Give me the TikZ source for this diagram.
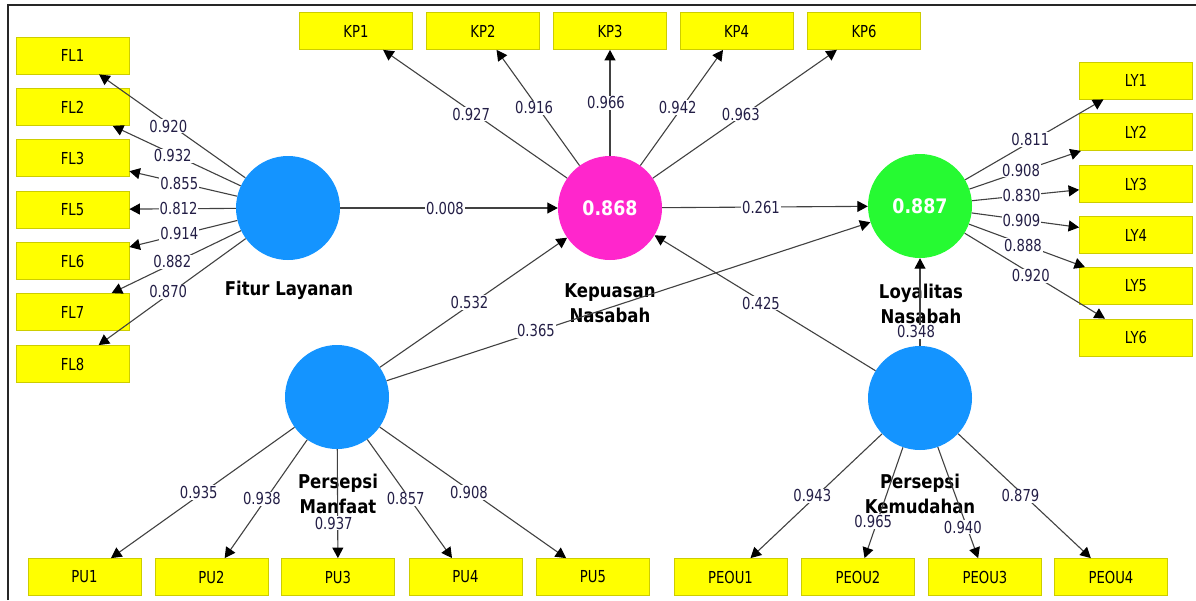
\documentclass[tikz,border=0pt]{standalone}
\usepackage{fontspec}
\usetikzlibrary{arrows.meta}
\newfontfamily\plsfont[FakeStretch=0.8]{DejaVu Sans}
\newfontfamily\latfont[FakeStretch=0.87]{DejaVu Sans}
\definecolor{latblue}{RGB}{20,148,255}
\definecolor{latpink}{RGB}{255,38,204}
\definecolor{latgreen}{RGB}{38,250,50}
\definecolor{indyellow}{RGB}{255,255,0}
\definecolor{indedge}{RGB}{205,205,0}
\definecolor{linkgray}{RGB}{65,65,65}
\definecolor{numink}{RGB}{35,30,70}
\tikzset{
  latent/.style={circle, fill=#1, minimum size=104pt, inner sep=0pt, text=white,
    font=\latfont\bfseries\fontsize{20}{24}\selectfont},
  indicator/.style={rectangle, fill=indyellow, draw=indedge, line width=0.8pt,
    minimum width=113pt, minimum height=37pt, inner sep=0pt,
    font=\plsfont\fontsize{16.5}{19}\selectfont},
  latname/.style={align=center, anchor=base, inner sep=0pt,
    font=\latfont\bfseries\fontsize{19}{25}\selectfont},
  load/.style={fill=white, inner sep=1pt, text=numink, xshift=-4pt,
    font=\plsfont\fontsize{16.5}{19}\selectfont},
  link/.style={draw=linkgray, line width=1.1pt, -{Triangle[length=10.5pt, width=11pt, color=black]}}
}
\begin{document}
\begin{tikzpicture}[x=1pt, y=-1pt]
\useasboundingbox (0,0) rectangle (1196,600);
\draw[line width=2pt, black!85] (8,600) -- (8,5) -- (1196,5);

\node[latent=latblue] (FL) at (288,208) {};
\node[latent=latpink] (KP) at (610,208) {0.868};
\node[latent=latgreen] (LY) at (920,206) {0.887};
\node[latent=latblue] (PM) at (337,397) {};
\node[latent=latblue] (PEOU) at (920,398) {};

\node[latname] (FLname) at (289,295) {Fitur Layanan};
\node[latname] (KPname) at (610,322) {Kepuasan\\Nasabah};
\node[latname] (LYname) at (921,323) {Loyalitas\\Nasabah};
\node[latname] (PMname) at (338,513) {Persepsi\\Manfaat};
\node[latname] (PEOUname) at (920,513) {Persepsi\\Kemudahan};

\node[indicator] (FL1) at (72.5,55.5) {FL1};
\node[indicator] (FL2) at (72.5,107) {FL2};
\node[indicator] (FL3) at (72.5,158) {FL3};
\node[indicator] (FL5) at (72.5,209.5) {FL5};
\node[indicator] (FL6) at (72.5,261) {FL6};
\node[indicator] (FL7) at (72.5,312) {FL7};
\node[indicator] (FL8) at (72.5,364) {FL8};

\node[indicator] (KP1) at (356,31) {KP1};
\node[indicator] (KP2) at (483,31) {KP2};
\node[indicator] (KP3) at (610,31) {KP3};
\node[indicator] (KP4) at (736.5,31) {KP4};
\node[indicator] (KP6) at (864,31) {KP6};

\node[indicator] (LY1) at (1136,80.5) {LY1};
\node[indicator] (LY2) at (1136,132) {LY2};
\node[indicator] (LY3) at (1136,184) {LY3};
\node[indicator] (LY4) at (1136,235) {LY4};
\node[indicator] (LY5) at (1136,286) {LY5};
\node[indicator] (LY6) at (1136,337.5) {LY6};

\node[indicator] (PU1) at (84.5,577) {PU1};
\node[indicator] (PU2) at (211.5,577) {PU2};
\node[indicator] (PU3) at (338,577) {PU3};
\node[indicator] (PU4) at (465.5,577) {PU4};
\node[indicator] (PU5) at (593,577) {PU5};

\node[indicator] (PEOU1) at (730.5,577) {PEOU1};
\node[indicator] (PEOU2) at (858,577) {PEOU2};
\node[indicator] (PEOU3) at (985,577) {PEOU3};
\node[indicator] (PEOU4) at (1111,577) {PEOU4};

\draw[link] (FL) to node[load] {0.920} (FL1);
\draw[link] (FL) to node[load] {0.932} (FL2);
\draw[link] (FL) to node[load] {0.855} (FL3);
\draw[link] (FL) to node[load] {0.812} (FL5);
\draw[link] (FL) to node[load] {0.914} (FL6);
\draw[link] (FL) to node[load] {0.882} (FL7);
\draw[link] (FL) to node[load] {0.870} (FL8);

\draw[link] (KP) to node[load] {0.927} (KP1);
\draw[link] (KP) to node[load] {0.916} (KP2);
\draw[link] (KP) to node[load] {0.966} (KP3);
\draw[link] (KP) to node[load] {0.942} (KP4);
\draw[link] (KP) to node[load] {0.963} (KP6);

\draw[link] (LY) to node[load] {0.811} (LY1);
\draw[link] (LY) to node[load] {0.908} (LY2);
\draw[link] (LY) to node[load] {0.830} (LY3);
\draw[link] (LY) to node[load] {0.909} (LY4);
\draw[link] (LY) to node[load] {0.888} (LY5);
\draw[link] (LY) to node[load] {0.920} (LY6);

\draw[link] (PM) to node[load] {0.935} (PU1);
\draw[link] (PM) to node[load] {0.938} (PU2);
\draw[link] (PM) to node[load, pos=0.68] {0.937} (PU3);
\draw[link] (PM) to node[load] {0.857} (PU4);
\draw[link] (PM) to node[load] {0.908} (PU5);

\draw[link] (PEOU) to node[load] {0.943} (PEOU1);
\draw[link] (PEOU) to node[load, pos=0.67] {0.965} (PEOU2);
\draw[link] (PEOU) to node[load, pos=0.72] {0.940} (PEOU3);
\draw[link] (PEOU) to node[load] {0.879} (PEOU4);

\draw[link] (FL) to node[load] {0.008} (KP);
\draw[link] (KP) to node[load] {0.261} (LY);
\draw[link] (PM) to node[load] {0.532} (KP);
\draw[link] (PM) to node[load, pos=0.317] {0.365} (LY);
\draw[link] (PEOU) to node[load] {0.425} (KP);
\draw[link] (PEOU) to node[load, pos=0.16] {0.348} (LY);
\end{tikzpicture}
\end{document}
